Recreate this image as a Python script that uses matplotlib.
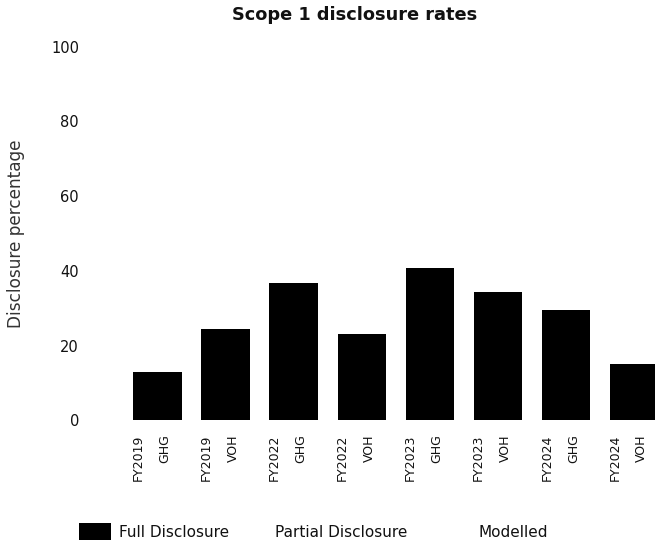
import matplotlib
matplotlib.use("Agg")
import matplotlib.pyplot as plt
from matplotlib.patches import Patch

plt.rcParams['font.family'] = ['DejaVu Sans']

categories = ["FY2019\nGHG", "FY2019\nVOH", "FY2022\nGHG", "FY2022\nVOH",
              "FY2023\nGHG", "FY2023\nVOH", "FY2024\nGHG", "FY2024\nVOH"]
full_disclosure = [12.9, 24.4, 36.7, 23.0, 40.8, 34.4, 29.4, 15.1]
partial_disclosure = [0, 0, 0, 0, 0, 0, 0, 0]
modelled = [0, 0, 0, 0, 0, 0, 0, 0]
y_ticks = [0, 20, 40, 60, 80, 100]
series_names = ["Full Disclosure", "Partial Disclosure", "Modelled"]

W, H = 655, 545
fig = plt.figure(figsize=(W / 100, H / 100), dpi=100)
left, right, bottom, top = 123.5, 667.9, 420.3, 46.7
ax = fig.add_axes([left / W, (H - bottom) / H, (right - left) / W, (bottom - top) / H])

x = list(range(len(categories)))
ax.bar(x, full_disclosure, width=0.71, color="black", label=series_names[0])
base2 = full_disclosure
ax.bar(x, partial_disclosure, width=0.71, bottom=base2, color="white", label=series_names[1])
base3 = [a + b for a, b in zip(full_disclosure, partial_disclosure)]
ax.bar(x, modelled, width=0.71, bottom=base3, color="white", label=series_names[2])

txtc = "#111111"
ax.set_xlim(-0.5, len(categories) - 0.5)
ax.set_ylim(0, 100)
ax.set_yticks(y_ticks)
ax.set_yticklabels([str(v) for v in y_ticks], fontsize=10.5, color=txtc)
label_offset = 0.085  # labels sit slightly left of bar centres in the reference
ax.set_xticks([i - label_offset for i in x])
ax.set_xticklabels(categories, rotation=90, fontsize=9, color=txtc,
                   ha="center", va="top", multialignment="right", linespacing=2.35)
ax.tick_params(axis="y", length=0, pad=32)
ax.tick_params(axis="x", length=0, pad=10)
for s in ax.spines.values():
    s.set_visible(False)

ax.set_ylabel("Disclosure percentage", fontsize=12.2, color="#333333")
ax.yaxis.set_label_coords((25 - left) / (right - left), 0.5)

fig.text(355 / W, 1 - 15 / H, "Scope 1 disclosure rates", fontsize=12.8,
         fontweight="bold", ha="center", va="center", color=txtc)

colors = ["black", "white", "white"]
handle_x = [79, 235, 438]
for name, col, hx in zip(series_names, colors, handle_x):
    lg = fig.legend(handles=[Patch(facecolor=col, label=name)], loc="center left",
                    bbox_to_anchor=(hx / W, 1 - 531.5 / H), frameon=False, fontsize=11,
                    handlelength=2.1, handleheight=1.25, handletextpad=0.55,
                    borderaxespad=0, borderpad=0)
    for t in lg.get_texts():
        t.set_color(txtc)

fig.savefig("out.png", dpi=100, facecolor="white")
